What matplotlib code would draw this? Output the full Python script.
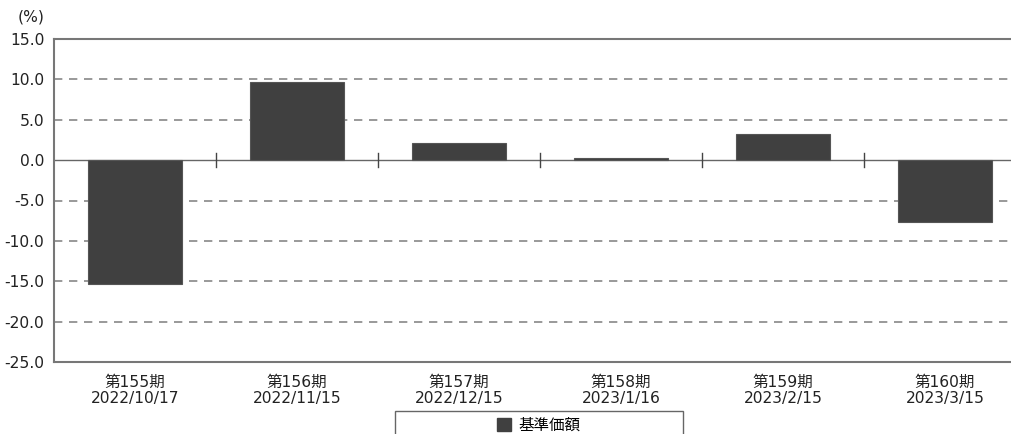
import matplotlib
matplotlib.use("Agg")
import matplotlib.pyplot as plt
from matplotlib.patches import Rectangle, Patch

plt.rcParams['font.family'] = ['DejaVu Sans', 'Noto Sans CJK JP']

periods = ["第155期", "第156期", "第157期", "第158期", "第159期", "第160期"]
dates = ["2022/10/17", "2022/11/15", "2022/12/15", "2023/1/16", "2023/2/15", "2023/3/15"]
values = [-15.3, 9.7, 2.1, 0.3, 3.2, -7.7]
yticks = [15.0, 10.0, 5.0, 0.0, -5.0, -10.0, -15.0, -20.0, -25.0]
legend_label = "基準価額"

W, H = 1012, 434
fig = plt.figure(figsize=(W / 100, H / 100), dpi=100)
left, right, top, bottom = 54, 1026, 39, 362
ax = fig.add_axes([left / W, 1 - bottom / H, (right - left) / W, (bottom - top) / H])

x = list(range(len(values)))
ax.bar(x, values, width=0.585, color="#404040", edgecolor="#555555", linewidth=0.8, zorder=3)

ax.set_xlim(-0.5, len(values) - 0.5)
ax.set_ylim(-25, 15)

for v in yticks:
    if v in (15.0, -25.0, 0.0):
        continue
    ax.axhline(v, color="#888888", lw=1.2, ls=(0, (5, 4)), zorder=1)
ax.axhline(0, color="#666666", lw=1.0, zorder=2)
for b in range(1, len(values)):
    ax.plot([b - 0.5, b - 0.5], [-0.85, 0.85], color="#444444", lw=1.0, zorder=2)

fs = 11.2
ax.set_yticks(yticks)
ax.set_yticklabels([f"{v:.1f}" for v in yticks], fontsize=fs, color="#222222")
ax.tick_params(axis="y", length=0, pad=7)
ax.set_xticks(x)
ax.set_xticklabels([f"{p}\n{d}" for p, d in zip(periods, dates)], fontsize=fs,
                   color="#222222", linespacing=1.15)
ax.tick_params(axis="x", length=0, pad=9)

for s in ["left", "bottom", "top"]:
    ax.spines[s].set_color("#777777")
    ax.spines[s].set_linewidth(1.5)
ax.spines["right"].set_visible(False)

fig.text(18 / W, 1 - 17 / H, "(%)", fontsize=fs, color="#222222", va="center", ha="left")

fig.patches.append(Rectangle((395 / W, -0.05), (683 - 395) / W, 0.05 + (1 - 411 / H),
                             transform=fig.transFigure, fill=False, edgecolor="#666666",
                             lw=1.0))
fig.legend(handles=[Patch(facecolor="#404040", edgecolor="#404040", label=legend_label)],
           loc="center", bbox_to_anchor=(539 / W, 1 - 425 / H), frameon=False,
           fontsize=fs, handlelength=0.9, handleheight=0.9, handletextpad=0.5,
           borderpad=0)

fig.savefig("out.png", dpi=100)
